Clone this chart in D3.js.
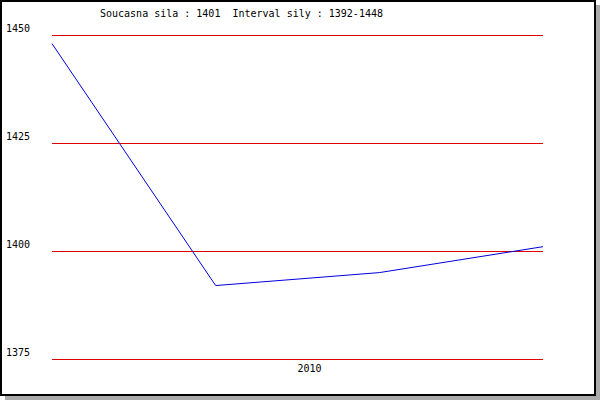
<!DOCTYPE html>
<html><head><meta charset="utf-8">
<script src="https://cdn.jsdelivr.net/npm/d3@7"></script>
<style>body{margin:0;padding:0;background:#fff}svg{display:block}text{font-family:"DejaVu Sans Mono",monospace;font-size:10px;fill:#000;white-space:pre}</style>
</head><body>
<script>
const titleText = "Soucasna sila : 1401  Interval sily : 1392-1448";
const pointIndex = [0, 1, 2, 3];
const values = [1448, 1392, 1395, 1401];
const yTicks = [1450, 1425, 1400, 1375];
const xLabels = ["2010"];
const xLabelPos = [1.5];

const W = 600, H = 400;
const svg = d3.select("body").append("svg").attr("width", W).attr("height", H);

// shadow + frame
svg.append("rect").attr("x", 5).attr("y", 5).attr("width", 595).attr("height", 395).attr("fill", "#aaaaaa");
svg.append("rect").attr("x", 1).attr("y", 1).attr("width", 594).attr("height", 394)
  .attr("fill", "#fff").attr("stroke", "#000").attr("stroke-width", 2);

const x = d3.scaleLinear().domain([0, 3]).range([52, 543]);
const y = d3.scaleLinear().domain([1375, 1450]).range([359, 35]);

// gridlines
svg.append("g").selectAll("line").data(yTicks).join("line")
  .attr("x1", x(0)).attr("x2", x(3))
  .attr("y1", d => Math.round(y(d)) + 0.5).attr("y2", d => Math.round(y(d)) + 0.5)
  .attr("stroke", "#e00000").attr("stroke-width", 1).attr("shape-rendering", "crispEdges");

// y labels
svg.append("g").selectAll("text").data(yTicks).join("text")
  .attr("x", 6).attr("y", d => y(d) - 3).text(d => d);

// x labels
svg.append("g").selectAll("text").data(xLabels).join("text")
  .attr("x", (d, i) => x(xLabelPos[i])).attr("y", y(1375) + 13).text(d => d);

// title
svg.append("text").attr("x", 100).attr("y", 17).attr("xml:space", "preserve").text(titleText);

// line
const line = d3.line().x((d, i) => x(pointIndex[i])).y(d => y(d));
svg.append("path").datum(values).attr("d", line)
  .attr("fill", "none").attr("stroke", "#0000dd").attr("stroke-width", 1);
</script>
</body></html>
